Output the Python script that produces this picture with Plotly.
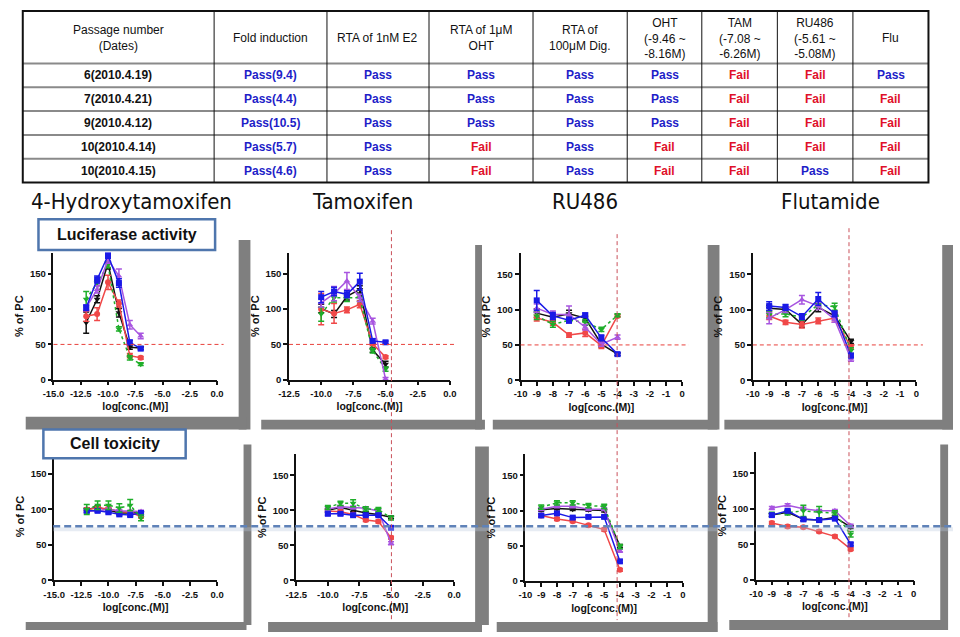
import plotly.graph_objects as go

W, H = 960, 637

# ---------------- table data ----------------
TABLE_HEADERS = ["Passage number<br>(Dates)", "Fold induction", "RTA of 1nM E2",
                 "RTA of 1μM<br>OHT", "RTA of<br>100μM Dig.",
                 "OHT<br>(-9.46 ~<br>-8.16M)", "TAM<br>(-7.08 ~<br>-6.26M)",
                 "RU486<br>(-5.61 ~<br>-5.08M)", "Flu"]
PASSAGES = ["6(2010.4.19)", "7(2010.4.21)", "9(2010.4.12)", "10(2010.4.14)", "10(2010.4.15)"]
FOLD_INDUCTION = ["Pass(9.4)", "Pass(4.4)", "Pass(10.5)", "Pass(5.7)", "Pass(4.6)"]
RTA_E2 = ["Pass", "Pass", "Pass", "Pass", "Pass"]
RTA_OHT = ["Pass", "Pass", "Pass", "Fail", "Fail"]
RTA_DIG = ["Pass", "Pass", "Pass", "Pass", "Pass"]
OHT_RESULT = ["Pass", "Pass", "Pass", "Fail", "Fail"]
TAM_RESULT = ["Fail", "Fail", "Fail", "Fail", "Fail"]
RU486_RESULT = ["Fail", "Fail", "Fail", "Fail", "Pass"]
FLU_RESULT = ["Pass", "Fail", "Fail", "Fail", "Fail"]

# ---------------- chart data ----------------
TITLES = ["4-Hydroxytamoxifen", "Tamoxifen", "RU486", "Flutamide"]
OHT_X = [-12, -11, -10, -9, -8, -7]
TAM_X = [-10, -9, -8, -7, -6, -5]
RU_X = [-9, -8, -7, -6, -5, -4]
FLU_X = [-9, -8, -7, -6, -5, -4]

TICKS_15 = [-15, -12.5, -10, -7.5, -5, -2.5, 0]
TICKS_15_TEXT = ["-15.0", "-12.5", "-10.0", "-7.5", "-5.0", "-2.5", "0.0"]
TICKS_125 = [-12.5, -10, -7.5, -5, -2.5, 0]
TICKS_125_TEXT = ["-12.5", "-10.0", "-7.5", "-5.0", "-2.5", "0.0"]
TICKS_10 = [-10, -9, -8, -7, -6, -5, -4, -3, -2, -1, 0]
TICKS_10_TEXT = ["-10", "-9", "-8", "-7", "-6", "-5", "-4", "-3", "-2", "-1", "0"]
Y_TICKS = [0, 50, 100, 150]
Y_TICKS_TEXT = ["0", "50", "100", "150"]

# Luciferase activity (% of PC)
LUC_OHT_BLACK = [81, 114, 165, 95, 46, 45]
LUC_OHT_BLUE = [102, 142, 176, 137, 53, 44]
LUC_OHT_PURPLE = [102, 128, 170, 147, 78, 62]
LUC_OHT_GREEN = [114, 137, 163, 72, 31, 22]
LUC_OHT_RED = [90, 93, 138, 108, 34, 31]
LUC_OHT_BLACK_ERR = [15, 5, 8, 6, 3, 2]
LUC_OHT_BLUE_ERR = [4, 5, 4, 6, 3, 2]
LUC_OHT_PURPLE_ERR = [4, 5, 5, 10, 6, 4]
LUC_OHT_GREEN_ERR = [11, 4, 4, 3, 3, 2]
LUC_OHT_RED_ERR = [7, 9, 10, 5, 3, 2]

LUC_TAM_BLACK = [101, 93, 118, 128, 42, 22]
LUC_TAM_BLUE = [117, 125, 121, 139, 55, 53]
LUC_TAM_PURPLE = [109, 122, 140, 116, 83, 1]
LUC_TAM_GREEN = [93, 116, 116, 116, 41, 15]
LUC_TAM_RED = [100, 94, 99, 107, 51, 32]
LUC_TAM_BLACK_ERR = [6, 5, 5, 5, 3, 4]
LUC_TAM_BLUE_ERR = [8, 6, 5, 12, 3, 2]
LUC_TAM_PURPLE_ERR = [6, 10, 12, 5, 4, 2]
LUC_TAM_GREEN_ERR = [10, 6, 5, 5, 3, 3]
LUC_TAM_RED_ERR = [22, 14, 4, 5, 3, 2]

LUC_RU_BLACK = [95, 89, 94, 88, 51, 37]
LUC_RU_BLUE = [113, 91, 85, 92, 60, 37]
LUC_RU_PURPLE = [102, 93, 93, 75, 51, 61]
LUC_RU_GREEN = [91, 79, 85, 82, 72, 92]
LUC_RU_RED = [88, 82, 64, 67, 49, 91]
LUC_RU_BLACK_ERR = [6, 4, 5, 4, 4, 2]
LUC_RU_BLUE_ERR = [14, 5, 4, 3, 4, 2]
LUC_RU_PURPLE_ERR = [6, 5, 12, 4, 3, 3]
LUC_RU_GREEN_ERR = [5, 4, 3, 4, 3, 2]
LUC_RU_RED_ERR = [4, 4, 3, 5, 4, 2]

LUC_FLU_BLACK = [102, 100, 79, 103, 91, 55]
LUC_FLU_BLUE = [105, 103, 90, 115, 94, 35]
LUC_FLU_PURPLE = [88, 100, 114, 105, 86, 30]
LUC_FLU_GREEN = [93, 94, 89, 107, 104, 42]
LUC_FLU_RED = [91, 82, 79, 84, 88, 47]
LUC_FLU_BLACK_ERR = [4, 4, 4, 6, 4, 3]
LUC_FLU_BLUE_ERR = [6, 4, 4, 9, 4, 3]
LUC_FLU_PURPLE_ERR = [8, 4, 6, 5, 4, 3]
LUC_FLU_GREEN_ERR = [5, 4, 4, 4, 5, 4]
LUC_FLU_RED_ERR = [5, 3, 5, 4, 6, 3]

# Cell toxicity (% of PC)
TOX_OHT_BLACK = [100, 103, 99, 95, 95, 95]
TOX_OHT_BLUE = [98, 98, 96, 93, 92, 95]
TOX_OHT_PURPLE = [97, 99, 100, 98, 97, 97]
TOX_OHT_GREEN = [100, 106, 106, 102, 106, 88]
TOX_OHT_RED = [100, 102, 101, 97, 96, 90]
TOX_OHT_GREEN_ERR = [7, 6, 6, 6, 8, 4]

TOX_TAM_BLACK = [100, 104, 100, 96, 94, 90]
TOX_TAM_BLUE = [95, 95, 93, 93, 93, 75]
TOX_TAM_PURPLE = [102, 105, 104, 103, 99, 53]
TOX_TAM_GREEN = [104, 110, 110, 102, 101, 89]
TOX_TAM_RED = [99, 98, 94, 86, 84, 61]
TOX_TAM_GREEN_ERR = [3, 3, 5, 3, 3, 3]

TOX_RU_BLACK = [101, 103, 102, 101, 100, 50]
TOX_RU_BLUE = [93, 96, 90, 91, 91, 28]
TOX_RU_PURPLE = [102, 106, 106, 102, 102, 43]
TOX_RU_GREEN = [105, 111, 111, 107, 106, 49]
TOX_RU_RED = [93, 88, 85, 79, 73, 16]
TOX_RU_GREEN_ERR = [3, 3, 3, 3, 3, 3]

TOX_FLU_BLACK = [91, 95, 85, 84, 88, 74]
TOX_FLU_BLUE = [91, 97, 85, 84, 86, 50]
TOX_FLU_PURPLE = [101, 105, 100, 97, 97, 76]
TOX_FLU_GREEN = [92, 94, 97, 95, 94, 64]
TOX_FLU_RED = [80, 75, 74, 68, 61, 43]
TOX_FLU_GREEN_ERR = [3, 3, 8, 8, 3, 4]
SMALL_ERR = [2, 2, 2, 2, 2, 2]

# ---------------- styles ----------------
ARIAL = "Liberation Sans, Arial, sans-serif"
TITLE_FONT = "DejaVu Sans Condensed, Liberation Sans Narrow, sans-serif"
BLUE_TXT = "#1e1ec8"
RED_TXT = "#e0102a"
GREY = "#7f7f7f"

STYLE = {
    "black": dict(color="#111111", symbol="triangle-down", dash="solid"),
    "blue": dict(color="#1a1ae6", symbol="square", dash="solid"),
    "purple": dict(color="#a855e0", symbol="triangle-up", dash="solid"),
    "green": dict(color="#1fae2a", symbol="triangle-down", dash="dot"),
    "red": dict(color="#f04848", symbol="circle", dash="solid"),
}


def px(x):
    return x / W


def py(y):
    return 1 - y / H


fig = go.Figure()
shapes = []
annotations = []


def rect(x0, y0, x1, y1, fill, line_color=None, lw=0, layer="below"):
    shapes.append(dict(type="rect", xref="paper", yref="paper",
                       x0=px(x0), x1=px(x1), y0=py(y1), y1=py(y0),
                       fillcolor=fill, line=dict(color=line_color or fill, width=lw),
                       layer=layer))


def line(x0, y0, x1, y1, color, width=1, dash="solid", layer="above"):
    shapes.append(dict(type="line", xref="paper", yref="paper",
                       x0=px(x0), x1=px(x1), y0=py(y0), y1=py(y1),
                       line=dict(color=color, width=width, dash=dash), layer=layer))


# ---------------- table ----------------
COL_EDGES = [12, 207, 322, 426, 532, 628, 704, 781, 858, 935]
ROW_EDGES = [11, 64, 88, 112, 136, 160, 184]
for yy in ROW_EDGES[1:-1]:
    line(COL_EDGES[0], yy, COL_EDGES[-1], yy, "#8a8a8a", 2)
for xx in COL_EDGES[1:-1]:
    line(xx, ROW_EDGES[0], xx, ROW_EDGES[-1], "#111111", 1)
shapes.append(dict(type="rect", xref="paper", yref="paper",
                   x0=px(COL_EDGES[0]), x1=px(COL_EDGES[-1]),
                   y0=py(ROW_EDGES[-1]), y1=py(ROW_EDGES[0]),
                   line=dict(color="#111111", width=2), layer="above"))

cols = [PASSAGES, FOLD_INDUCTION, RTA_E2, RTA_OHT, RTA_DIG,
        OHT_RESULT, TAM_RESULT, RU486_RESULT, FLU_RESULT]
for ci, head in enumerate(TABLE_HEADERS):
    cx = (COL_EDGES[ci] + COL_EDGES[ci + 1]) / 2
    annotations.append(dict(x=px(cx), y=py((ROW_EDGES[0] + ROW_EDGES[1]) / 2 + 1),
                            xref="paper", yref="paper", text=head, showarrow=False,
                            font=dict(family=ARIAL, size=12, color="#111111"),
                            xanchor="center", yanchor="middle", align="center"))
    for ri, val in enumerate(cols[ci]):
        cy = (ROW_EDGES[ri + 1] + ROW_EDGES[ri + 2]) / 2
        if ci == 0:
            col = "#111111"
        elif val.startswith("Pass"):
            col = BLUE_TXT
        else:
            col = RED_TXT
        annotations.append(dict(x=px(cx), y=py(cy), xref="paper", yref="paper",
                                text=val, showarrow=False,
                                font=dict(family=ARIAL, size=12, color=col, weight="bold"),
                                xanchor="center", yanchor="middle"))

# ---------------- grey panel shadows ----------------
GREY_STRIPS = [
    (232, 242, 244, 433), (15, 420, 240, 433), (255, 423, 483, 433), (473, 247, 480, 433),
    (491, 423, 720, 433), (710, 247, 722, 433), (727, 423, 960, 433), (949, 247, 960, 433),
    (237, 448, 245, 630), (15, 627, 240, 635), (262, 627, 480, 637), (473, 450, 487, 630),
    (710, 450, 720, 637), (495, 627, 720, 637), (947, 448, 955, 625), (732, 625, 955, 635),
]
for g in GREY_STRIPS:
    rect(*g, fill=GREY)

# ---------------- panels ----------------
# (x_left_px, x_right_px, y_top_px(180), y_bottom_px(0), xrange, ticks, ticktext)
PANELS = [
    (43.3, 210, 254.7, 382.7, [-15, 0], TICKS_15, TICKS_15_TEXT),
    (283.3, 447.3, 254.7, 382.7, [-12.5, 0], TICKS_125, TICKS_125_TEXT),
    (519.3, 684, 255.0, 383.3, [-10, 0], TICKS_10, TICKS_10_TEXT),
    (756, 922.7, 255.0, 383.3, [-10, 0], TICKS_10, TICKS_10_TEXT),
    (44, 210, 456.2, 585, [-15, 0], TICKS_15, TICKS_15_TEXT),
    (290.7, 451.7, 457.8, 585, [-12.5, 0], TICKS_125, TICKS_125_TEXT),
    (524.3, 684.7, 457.7, 585.7, [-10, 0], TICKS_10, TICKS_10_TEXT),
    (759.3, 920, 455.5, 584.3, [-10, 0], TICKS_10, TICKS_10_TEXT),
]

PANEL_DATA = [
    (OHT_X, [("black", LUC_OHT_BLACK, LUC_OHT_BLACK_ERR), ("red", LUC_OHT_RED, LUC_OHT_RED_ERR),
             ("green", LUC_OHT_GREEN, LUC_OHT_GREEN_ERR), ("purple", LUC_OHT_PURPLE, LUC_OHT_PURPLE_ERR),
             ("blue", LUC_OHT_BLUE, LUC_OHT_BLUE_ERR)]),
    (TAM_X, [("black", LUC_TAM_BLACK, LUC_TAM_BLACK_ERR), ("red", LUC_TAM_RED, LUC_TAM_RED_ERR),
             ("green", LUC_TAM_GREEN, LUC_TAM_GREEN_ERR), ("purple", LUC_TAM_PURPLE, LUC_TAM_PURPLE_ERR),
             ("blue", LUC_TAM_BLUE, LUC_TAM_BLUE_ERR)]),
    (RU_X, [("black", LUC_RU_BLACK, LUC_RU_BLACK_ERR), ("red", LUC_RU_RED, LUC_RU_RED_ERR),
            ("green", LUC_RU_GREEN, LUC_RU_GREEN_ERR), ("purple", LUC_RU_PURPLE, LUC_RU_PURPLE_ERR),
            ("blue", LUC_RU_BLUE, LUC_RU_BLUE_ERR)]),
    (FLU_X, [("black", LUC_FLU_BLACK, LUC_FLU_BLACK_ERR), ("red", LUC_FLU_RED, LUC_FLU_RED_ERR),
             ("green", LUC_FLU_GREEN, LUC_FLU_GREEN_ERR), ("purple", LUC_FLU_PURPLE, LUC_FLU_PURPLE_ERR),
             ("blue", LUC_FLU_BLUE, LUC_FLU_BLUE_ERR)]),
    (OHT_X, [("black", TOX_OHT_BLACK, SMALL_ERR), ("red", TOX_OHT_RED, SMALL_ERR),
             ("purple", TOX_OHT_PURPLE, SMALL_ERR), ("blue", TOX_OHT_BLUE, SMALL_ERR),
             ("green", TOX_OHT_GREEN, TOX_OHT_GREEN_ERR)]),
    (TAM_X, [("black", TOX_TAM_BLACK, SMALL_ERR), ("red", TOX_TAM_RED, SMALL_ERR),
             ("purple", TOX_TAM_PURPLE, SMALL_ERR), ("green", TOX_TAM_GREEN, TOX_TAM_GREEN_ERR),
             ("blue", TOX_TAM_BLUE, SMALL_ERR)]),
    (RU_X, [("black", TOX_RU_BLACK, SMALL_ERR), ("red", TOX_RU_RED, SMALL_ERR),
            ("purple", TOX_RU_PURPLE, SMALL_ERR), ("green", TOX_RU_GREEN, TOX_RU_GREEN_ERR),
            ("blue", TOX_RU_BLUE, SMALL_ERR)]),
    (FLU_X, [("black", TOX_FLU_BLACK, SMALL_ERR), ("red", TOX_FLU_RED, SMALL_ERR),
             ("purple", TOX_FLU_PURPLE, SMALL_ERR), ("green", TOX_FLU_GREEN, TOX_FLU_GREEN_ERR),
             ("blue", TOX_FLU_BLUE, SMALL_ERR)]),
]

layout_axes = {}
for i, (x0, x1, yt, yb, xr, tv, tt) in enumerate(PANELS):
    n = "" if i == 0 else str(i + 1)
    xa, ya = "x" + n, "y" + n
    common = dict(showline=True, linecolor="#111111", linewidth=1.5, ticks="outside",
                  ticklen=4, tickwidth=1.5, tickcolor="#111111", showgrid=False,
                  zeroline=False, fixedrange=True, tickangle=0,
                  tickfont=dict(family=ARIAL, size=9.5, color="#111111", weight="bold"))
    layout_axes["xaxis" + n] = dict(domain=[px(x0), px(x1)], anchor=ya, range=xr,
                                    tickvals=tv, ticktext=tt,
                                    title=dict(text="log[conc.(M)]", standoff=5,
                                               font=dict(family=ARIAL, size=10.5, color="#111111",
                                                         weight="bold")),
                                    **common)
    layout_axes["yaxis" + n] = dict(domain=[py(yb), py(yt)], anchor=xa, range=[0, 180],
                                    tickvals=Y_TICKS, ticktext=Y_TICKS_TEXT,
                                    title=dict(text="% of PC", standoff=4,
                                               font=dict(family=ARIAL, size=11, color="#111111",
                                                         weight="bold")),
                                    **common)
    X, series = PANEL_DATA[i]
    for cname, ys, errs in series:
        st = STYLE[cname]
        fig.add_trace(go.Scatter(
            x=X, y=ys, xaxis=xa, yaxis=ya, mode="lines+markers", showlegend=False,
            cliponaxis=False,
            line=dict(color=st["color"], width=1.5, dash=st["dash"]),
            marker=dict(symbol=st["symbol"], size=6, color=st["color"]),
            error_y=dict(type="data", array=errs, color=st["color"], thickness=1.5, width=3),
        ))
    if i < 4:
        # 50% reference line
        shapes.append(dict(type="line", xref=xa + " domain", yref=ya, x0=0, x1=1.04, y0=50, y1=50,
                           line=dict(color="#e8413c", width=1, dash="4px,3px"), layer="above"))

# ---------------- overlays ----------------
# vertical dashed markers
for vx, vy0 in [(387.7, 232), (617.7, 236), (854.0, 230)]:
    line(vx, vy0, vx, 625, "#c9505a", 1, "4px,3px")
# cell viability threshold
line(43, 533.5, 960, 533.5, "rgba(185,200,220,0.35)", 4, "solid")
line(43, 530.5, 960, 530.5, "#5f82b8", 2.5, "7px,4px")

# titles
for t, cx in zip(TITLES, [123, 358, 585, 835]):
    annotations.append(dict(x=px(cx), y=py(203), xref="paper", yref="paper", text=t,
                            showarrow=False, font=dict(family=TITLE_FONT, size=22, color="#111111"),
                            xanchor="center", yanchor="middle"))

# label boxes
for (bx0, by0, bx1, by1, label) in [(28, 221, 208, 252, "Luciferase activity"),
                                    (33, 433, 178, 462, "Cell toxicity")]:
    rect(bx0, by0, bx1, by1, fill="white", line_color="#4f76ad", lw=2.5, layer="above")
    annotations.append(dict(x=px((bx0 + bx1) / 2), y=py((by0 + by1) / 2), xref="paper", yref="paper",
                            text=label, showarrow=False,
                            font=dict(family=ARIAL, size=16, color="#111111", weight="bold"),
                            xanchor="center", yanchor="middle"))

fig.update_layout(width=W, height=H, margin=dict(l=0, r=0, t=0, b=0),
                  paper_bgcolor="white", plot_bgcolor="rgba(0,0,0,0)",
                  shapes=shapes, annotations=annotations, showlegend=False, **layout_axes)

fig.write_html("out.html")
